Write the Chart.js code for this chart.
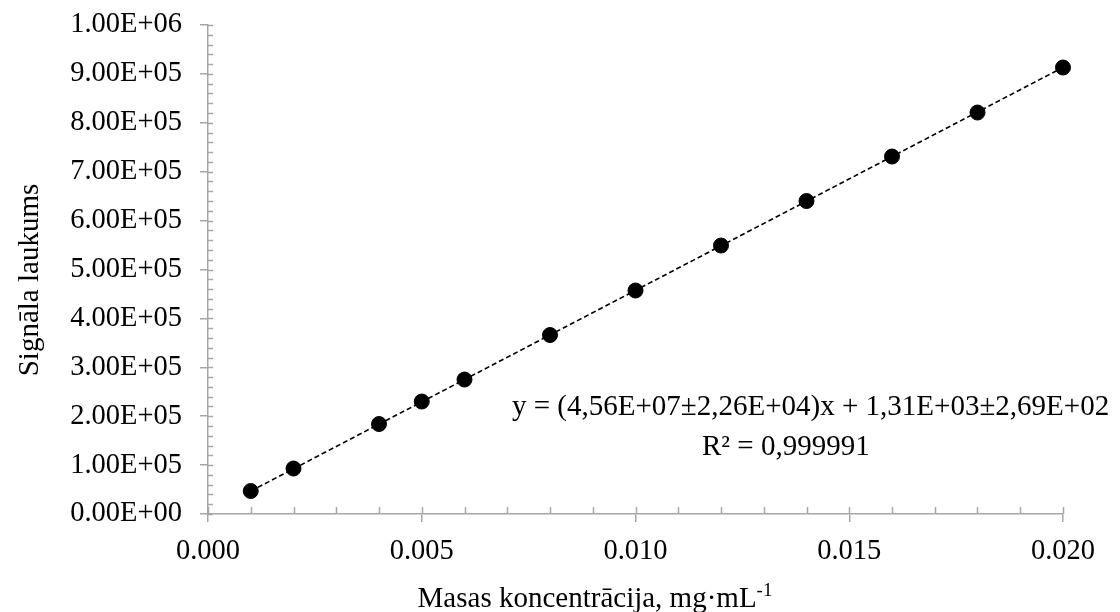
<!DOCTYPE html>
<html lang="lv">
<head>
    <meta charset="UTF-8">
    <title>Kalibrēšanas līkne</title>
    <script src="https://cdn.jsdelivr.net/npm/chart.js"></script>
    <style>
        body { margin: 0; background: #fff; }
        #wrap { width: 1120px; height: 612px; }
    </style>
</head>
<body>
    <div id="wrap"><canvas id="kalibr" width="1120" height="612"></canvas></div>
    <script>
        // dati no attēla
        const koncentracija = [0.001, 0.002, 0.004, 0.005, 0.006, 0.008, 0.010, 0.012, 0.014, 0.016, 0.018, 0.020];
        const laukums = [47000, 93000, 184000, 230000, 275000, 366000, 457000, 549000, 640000, 731000, 821000, 913000];
        // trendlīnijas galapunkti
        const trendX = [0.001, 0.020];
        const trendY = [46900, 913300];
        const vienadojums = ['y = (4,56E+07±2,26E+04)x + 1,31E+03±2,69E+02', 'R² = 0,999991'];
        const xNosaukums = 'Masas koncentrācija, mg·mL';
        const xPakape = '-1';
        const yNosaukums = 'Signāla laukums';

        const FONT = '"Liberation Serif", "Times New Roman", serif';
        const ASS = '#a6a6a6';

        function expFormat(v) {
            if (v === 0) return '0.00E+00';
            const p = v.toExponential(2).toUpperCase().split('E');
            let e = parseInt(p[1], 10);
            const sign = e < 0 ? '-' : '+';
            e = Math.abs(e);
            return p[0] + 'E' + sign + (e < 10 ? '0' + e : e);
        }

        // mazās iedaļas un teksti
        const extras = {
            id: 'extras',
            afterDraw(chart) {
                const c = chart.ctx;
                const xs = chart.scales.x, ys = chart.scales.y;
                const ca = chart.chartArea;
                c.save();
                c.strokeStyle = ASS;
                c.lineWidth = 1.5;
                c.beginPath();
                // y ass: iekšējās iedaļas
                for (let v = 0; v <= 1e6 + 1; v += 2e4) {
                    const py = Math.round(ys.getPixelForValue(v)) + 0.5;
                    c.moveTo(ca.left, py);
                    c.lineTo(ca.left + 5, py);
                }
                // x ass: iekšējās iedaļas
                for (let i = 0; i <= 20; i++) {
                    const px = Math.round(xs.getPixelForValue(i / 1000)) + 0.5;
                    c.moveTo(px, ca.bottom);
                    c.lineTo(px, ca.bottom - 7);
                }
                c.stroke();

                c.fillStyle = '#000';
                c.font = '29px ' + FONT;
                c.textBaseline = 'alphabetic';
                c.textAlign = 'left';
                c.fillText(vienadojums[0], 512, 415);
                c.fillText(vienadojums[1], 702, 455);

                // x nosaukums
                const w = c.measureText(xNosaukums).width;
                c.font = '19px ' + FONT;
                const w2 = c.measureText(xPakape).width;
                const x0 = 595 - (w + w2) / 2;
                c.font = '29px ' + FONT;
                c.fillText(xNosaukums, x0, 607);
                c.font = '19px ' + FONT;
                c.fillText(xPakape, x0 + w, 596);

                // y nosaukums
                c.font = '29px ' + FONT;
                c.translate(30, 280);
                c.rotate(-Math.PI / 2);
                c.textAlign = 'center';
                c.textBaseline = 'middle';
                c.fillText(yNosaukums, 0, 0);
                c.restore();
            }
        };

        const ctx = document.getElementById('kalibr').getContext('2d');
        new Chart(ctx, {
            type: 'scatter',
            data: {
                datasets: [{
                    label: 'trend',
                    data: trendX.map((x, i) => ({ x: x, y: trendY[i] })),
                    showLine: true,
                    borderColor: '#000',
                    borderWidth: 1.6,
                    borderDash: [5, 3],
                    pointRadius: 0,
                    clip: false,
                    order: 2
                }, {
                    label: 'mērījumi',
                    data: koncentracija.map((x, i) => ({ x: x, y: laukums[i] })),
                    backgroundColor: '#000',
                    borderColor: '#000',
                    pointRadius: 7.5,
                    clip: false,
                    order: 1
                }]
            },
            options: {
                responsive: false,
                animation: false,
                layout: { padding: { top: 25, right: 57, left: 0, bottom: 0 } },
                plugins: { legend: { display: false }, tooltip: { enabled: false } },
                scales: {
                    x: {
                        type: 'linear',
                        min: 0,
                        max: 0.02,
                        afterFit: s => { s.height = 98; s.paddingLeft = 0; s.paddingRight = 0; },
                        ticks: {
                            stepSize: 0.005,
                            padding: 12,
                            color: '#000',
                            font: { family: FONT, size: 28.5 },
                            maxRotation: 0,
                            callback: v => Number(v).toFixed(3)
                        },
                        grid: { drawOnChartArea: false, drawTicks: true, tickLength: 8, color: ASS, lineWidth: 1.5 },
                        border: { color: ASS, width: 1.5 }
                    },
                    y: {
                        min: 0,
                        max: 1000000,
                        afterFit: s => { s.width = 208; s.paddingTop = 0; s.paddingBottom = 0; },
                        ticks: {
                            stepSize: 100000,
                            padding: 18,
                            color: '#000',
                            font: { family: FONT, size: 28.5 },
                            callback: v => expFormat(v)
                        },
                        grid: { drawOnChartArea: false, drawTicks: true, tickLength: 8, color: ASS, lineWidth: 1.5 },
                        border: { color: ASS, width: 1.5 }
                    }
                }
            },
            plugins: [extras]
        });
    </script>
</body>
</html>
